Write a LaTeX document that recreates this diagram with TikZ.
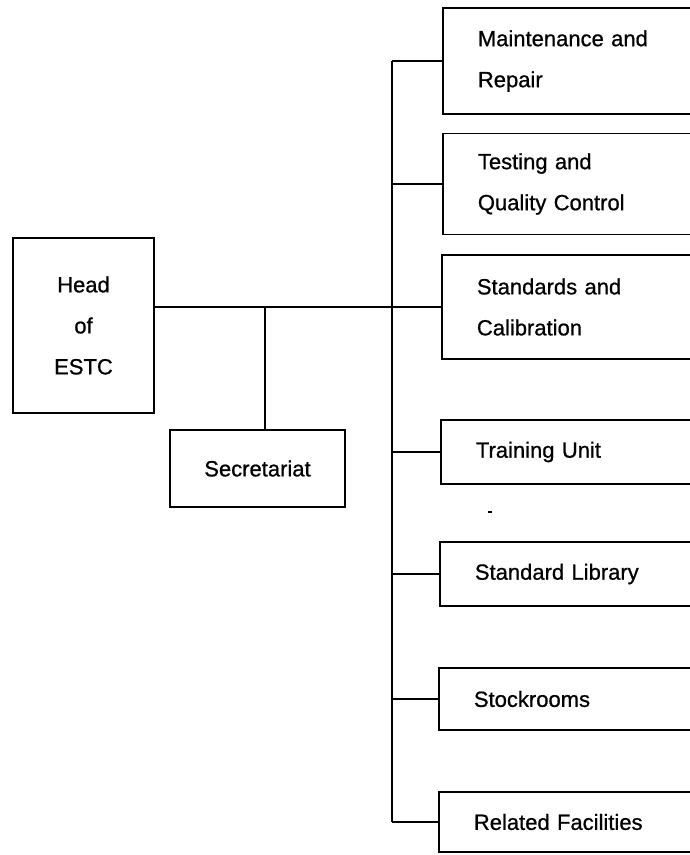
\documentclass[tikz,border=0pt]{standalone}
\usepackage{fontspec}
\setmainfont{Liberation Sans}[FakeBold=0.8]
\begin{document}
\begin{tikzpicture}[x=1pt,y=-1pt,
  every node/.style={font=\fontsize{22}{41}\selectfont},
  box/.style={draw, line width=1.8pt, rectangle, inner sep=0pt},
  unit/.style={box, anchor=west, minimum width=270pt, text width=200pt, inner xsep=35pt, align=left},
  link/.style={line width=1.8pt}]
\useasboundingbox (0,0) rectangle (690,855);
\begin{scope}
\clip (0,0) rectangle (690,855);
\node[box, minimum width=141pt, minimum height=175pt, align=center] (head) at (83.5,325.5) {Head\\of\\ESTC};
\node[box, minimum width=175pt, minimum height=77pt] (sec) at (257.5,468.5) {Secretariat};
\node[unit, minimum height=106pt] (mr) at (442,61) {Maintenance and\\Repair};
\node[unit, minimum height=101pt] (tq) at (442,184) {Testing and\\Quality Control};
\node[unit, minimum height=104pt] (sc) at (441,307) {Standards and\\Calibration};
\node[unit, minimum height=64pt] (tu) at (440,452) {Training Unit};
\node[unit, minimum height=64pt] (sl) at (439,574) {Standard Library};
\node[unit, minimum height=62pt] (st) at (438,699) {Stockrooms};
\node[unit, minimum height=60pt] (rf) at (438,822) {Related Facilities};
\coordinate (spine) at (392,0);
\draw[link] (spine |- mr.west) -- (spine |- rf.west);
\foreach \b in {mr,tq,tu,sl,st,rf} \draw[link] (spine |- \b.west) -- (\b.west);
\draw[link] (head.east |- sc.west) -- (sc.west);
\coordinate (junction) at ([xshift=7.5pt]sec.north);
\draw[link] (junction) -- (junction |- sc.west);
\coordinate (speck) at (490,512);
\draw[line width=1.8pt] ([xshift=-2pt]speck) -- ([xshift=2pt]speck);
\end{scope}
\end{tikzpicture}
\end{document}
